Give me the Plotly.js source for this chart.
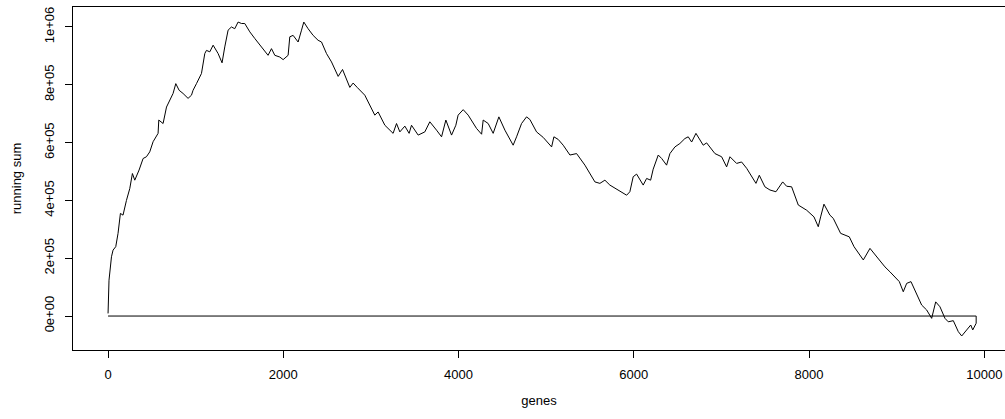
<!DOCTYPE html>
<html>
<head>
<meta charset="utf-8">
<script src="https://cdn.plot.ly/plotly-3.0.1.min.js"></script>
<style>html,body{margin:0;padding:0;background:#fff;overflow:hidden}</style>
</head>
<body>
<div id="chart" style="width:1005px;height:419px"></div>
<script>
// gene index (x) and running sum (y)
const genes = [0, 11, 39, 57, 88, 114, 141, 171, 210, 248, 278, 305, 354, 400, 438, 476, 514, 571, 579, 628, 667, 704, 742, 773, 811, 856, 913, 952, 970, 1009, 1066, 1104, 1123, 1161, 1199, 1256, 1301, 1332, 1370, 1408, 1446, 1484, 1523, 1560, 1618, 1675, 1732, 1789, 1826, 1865, 1903, 1960, 1998, 2055, 2074, 2112, 2169, 2208, 2234, 2283, 2340, 2397, 2436, 2493, 2550, 2626, 2676, 2759, 2797, 2843, 2930, 3044, 3082, 3159, 3253, 3292, 3330, 3387, 3436, 3463, 3539, 3615, 3672, 3749, 3806, 3855, 3920, 3969, 3995, 4053, 4110, 4205, 4263, 4281, 4338, 4395, 4460, 4529, 4623, 4662, 4719, 4776, 4814, 4890, 4966, 5062, 5088, 5137, 5194, 5271, 5347, 5442, 5556, 5613, 5670, 5727, 5822, 5918, 5955, 5993, 6032, 6107, 6146, 6192, 6221, 6279, 6318, 6374, 6412, 6469, 6526, 6583, 6621, 6660, 6709, 6792, 6831, 6926, 7002, 7059, 7097, 7173, 7230, 7288, 7394, 7432, 7496, 7554, 7622, 7699, 7744, 7801, 7877, 7973, 8056, 8105, 8132, 8170, 8238, 8276, 8360, 8410, 8459, 8513, 8619, 8695, 8741, 8809, 8866, 8923, 8980, 9030, 9075, 9114, 9163, 9228, 9285, 9342, 9399, 9445, 9494, 9551, 9589, 9646, 9703, 9742, 9780, 9817, 9845, 9868, 9894, 9907];
const runningSum = [9000, 124000, 205000, 228000, 240000, 286000, 355000, 349000, 400000, 441000, 493000, 470000, 505000, 545000, 551000, 568000, 603000, 632000, 678000, 666000, 723000, 747000, 770000, 804000, 781000, 770000, 753000, 764000, 781000, 804000, 839000, 908000, 919000, 914000, 937000, 908000, 876000, 931000, 989000, 1000000, 994000, 1017000, 1012000, 1012000, 983000, 960000, 937000, 914000, 902000, 925000, 902000, 896000, 887000, 902000, 966000, 971000, 948000, 989000, 1017000, 994000, 971000, 954000, 948000, 908000, 879000, 829000, 853000, 791000, 806000, 791000, 764000, 695000, 706000, 660000, 632000, 666000, 637000, 657000, 632000, 660000, 626000, 637000, 672000, 643000, 620000, 678000, 626000, 660000, 695000, 714000, 695000, 649000, 629000, 678000, 666000, 632000, 689000, 643000, 591000, 620000, 666000, 689000, 680000, 637000, 618000, 585000, 620000, 611000, 591000, 557000, 562000, 522000, 464000, 459000, 470000, 453000, 436000, 418000, 430000, 482000, 491000, 453000, 476000, 470000, 508000, 557000, 545000, 522000, 562000, 585000, 597000, 614000, 620000, 602000, 632000, 591000, 599000, 562000, 551000, 516000, 551000, 528000, 533000, 511000, 459000, 487000, 447000, 436000, 430000, 464000, 449000, 447000, 384000, 366000, 343000, 309000, 343000, 387000, 349000, 338000, 286000, 280000, 274000, 240000, 194000, 234000, 217000, 194000, 170000, 153000, 134000, 119000, 84000, 113000, 119000, 73000, 38000, 21000, -8000, 49000, 32000, -8000, -20000, -16000, -54000, -69000, -54000, -43000, -31000, -48000, -31000, -25000];
const xTicks = [0, 2000, 4000, 6000, 8000, 10000];
const yTicks = [0, 200000, 400000, 600000, 800000, 1000000];
const yTickLabels = ["0e+00", "2e+05", "4e+05", "6e+05", "8e+05", "1e+06"];

const last = genes[genes.length - 1];
const xs = genes.concat([last, genes[0]]);
const ys = runningSum.concat([0, 0]);

const font = {family: "Liberation Sans, Arial, sans-serif", size: 13, color: "#000"};

Plotly.newPlot("chart", [{
  x: xs, y: ys, type: "scatter", mode: "lines",
  line: {color: "#000", width: 1}, hoverinfo: "none"
}], {
  width: 1005, height: 419,
  margin: {l: 73, r: 0, t: 7, b: 69},
  paper_bgcolor: "#fff", plot_bgcolor: "#fff",
  showlegend: false,
  font: font,
  xaxis: {
    range: [-400, 10236], tickvals: xTicks, ticktext: xTicks.map(String),
    showgrid: false, zeroline: false, showline: true, mirror: true,
    linecolor: "#000", linewidth: 1,
    ticks: "outside", ticklen: 7, tickcolor: "#000", tickwidth: 1,
    tickfont: font, ticklabelstandoff: 5,
    title: {text: "genes", font: font, standoff: 15}
  },
  yaxis: {
    range: [-117500, 1069100], tickvals: yTicks, ticktext: yTickLabels,
    tickangle: -90,
    showgrid: false, zeroline: false, showline: true, mirror: false,
    linecolor: "#000", linewidth: 1,
    ticks: "outside", ticklen: 7, tickcolor: "#000", tickwidth: 1,
    tickfont: font, ticklabelstandoff: 6,
    title: {text: "running sum", font: font, standoff: 17}
  }
}, {displayModeBar: false, staticPlot: true});
</script>
</body>
</html>
